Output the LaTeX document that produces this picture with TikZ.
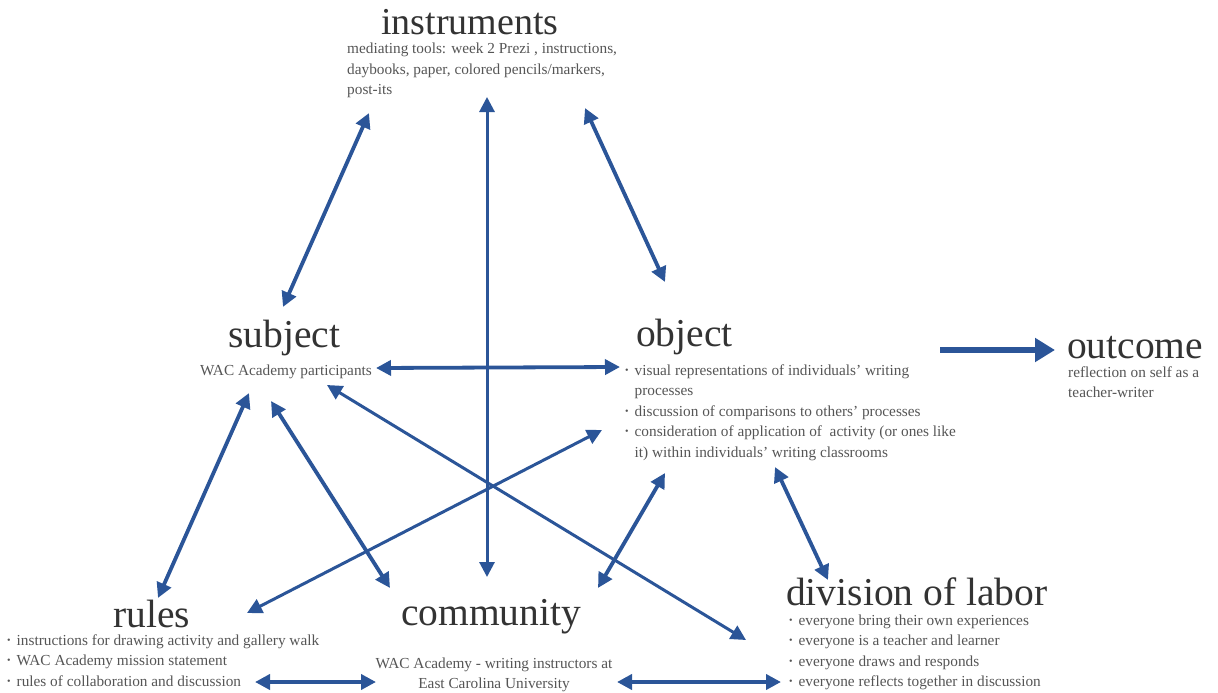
\documentclass[tikz,border=0pt]{standalone}
\usepackage{fontspec}
\setmainfont{Liberation Serif}
\usetikzlibrary{arrows.meta}
\definecolor{arrblue}{HTML}{2B5598}
\definecolor{headgray}{HTML}{333333}
\definecolor{bodygray}{HTML}{555555}
\newcommand{\bul}{\raisebox{0.25ex}{\scalebox{0.65}{\textbullet}}}

\begin{document}
\begin{tikzpicture}[
  x=1pt, y=-1pt,
  head/.style={anchor=base west, inner sep=0pt, text=headgray,
               font=\fontsize{39.5}{42}\selectfont},
  body/.style={anchor=base west, inner sep=0pt, text=bodygray,
               font=\fontsize{15.3}{20.5}\selectfont},
  arr/.style={{Triangle[length=15pt,width=15pt]}-{Triangle[length=15pt,width=15pt]},
              line width=3.8pt, draw=arrblue},
  longarr/.style={arr, line width=3pt},
  outarr/.style={-{Triangle[length=20pt,width=23pt]}, line width=6pt, draw=arrblue},
]
  \useasboundingbox (0,0) rectangle (1218,693);

  % Instruments
  \node[head, font=\fontsize{38}{42}\selectfont] (instr) at (381,35) {instruments};
  \node[body] (instrtxt) at (347,54) {\begin{tabular}[t]{@{}l@{}}
    mediating tools: week 2 Prezi , instructions,\\
    daybooks, paper, colored pencils/markers,\\
    post-its
  \end{tabular}};

  % Subject and object
  \node[head] (subj) at (228,347) {subject};
  \node[body] (subjtxt) at (200,375) {WAC Academy participants};
  \node[head] (obj) at (636,346) {object};
  \node[body] (objtxt) at (625,375) {\begin{tabular}[t]{@{}l@{\hspace{6pt}}l@{}}
    \bul & visual representations of individuals' writing\\
         & processes\\
    \bul & discussion of comparisons to others' processes\\
    \bul & consideration of application of \ activity (or ones like\\
         & it) within individuals' writing classrooms
  \end{tabular}};

  % Outcome
  \node[head, text depth=0pt] (out) at (1067,358) {outcome};
  \node[body] (outtxt) at (1068,377) {\begin{tabular}[t]{@{}l@{}}
    reflection on self as a\\teacher-writer
  \end{tabular}};

  % Rules, community, division of labor
  \node[head] (rules) at (113,627) {rules};
  \node[body] (rulestxt) at (7,645) {\begin{tabular}[t]{@{}l@{\hspace{6pt}}l@{}}
    \bul & instructions for drawing activity and gallery walk\\
    \bul & WAC Academy mission statement\\
    \bul & rules of collaboration and discussion
  \end{tabular}};
  \node[head] (comm) at (401,625) {community};
  \node[body, anchor=base] (commtxt) at (494,668) {\begin{tabular}[t]{@{}c@{}}
    WAC Academy - writing instructors at\\East Carolina University
  \end{tabular}};
  \node[head] (div) at (786,605) {division of labor};
  \node[body] (divtxt) at (789,625) {\begin{tabular}[t]{@{}l@{\hspace{6pt}}l@{}}
    \bul & everyone bring their own experiences\\
    \bul & everyone is a teacher and learner\\
    \bul & everyone draws and responds\\
    \bul & everyone reflects together in discussion
  \end{tabular}};

  % Arrow ends
  \coordinate (subj-i) at (283,307);
  \coordinate (instr-s) at (369,113);
  \coordinate (instr-c) at (487,97);
  \coordinate (comm-i) at (487,577);
  \coordinate (instr-o) at (585,108);
  \coordinate (obj-i) at (665,282);
  \coordinate (subj-o) at (376,368);
  \coordinate (obj-s) at (620,367);
  \coordinate (subj-r) at (249,393);
  \coordinate (rules-s) at (158,598);
  \coordinate (subj-c) at (271,401);
  \coordinate (comm-s) at (390,588);
  \coordinate (subj-d) at (327,385);
  \coordinate (div-s) at (746,640);
  \coordinate (rules-o) at (247,613);
  \coordinate (obj-r) at (602,430);
  \coordinate (comm-o) at (598,588);
  \coordinate (obj-c) at (665,473);
  \coordinate (obj-d) at (775,467);
  \coordinate (div-o) at (828,580);
  \coordinate (rules-c) at (255,682);
  \coordinate (comm-r) at (376,682);
  \coordinate (comm-d) at (617,682);
  \coordinate (div-c) at (781,682);
  \coordinate (obj-out) at (940,350);
  \coordinate (out-o) at (1055,350);

  % Arrows
  \draw[longarr] (instr-c) -- (comm-i);
  \draw[longarr] (subj-d) -- (div-s);
  \draw[longarr] (rules-o) -- (obj-r);
  \draw[arr] (subj-i) -- (instr-s);
  \draw[arr] (instr-o) -- (obj-i);
  \draw[arr] (subj-o) -- (obj-s);
  \draw[arr] (subj-r) -- (rules-s);
  \draw[arr] (subj-c) -- (comm-s);
  \draw[arr] (comm-o) -- (obj-c);
  \draw[arr] (obj-d) -- (div-o);
  \draw[arr] (rules-c) -- (comm-r);
  \draw[arr] (comm-d) -- (div-c);
  \draw[outarr] (obj-out) -- (out-o);
\end{tikzpicture}
\end{document}
